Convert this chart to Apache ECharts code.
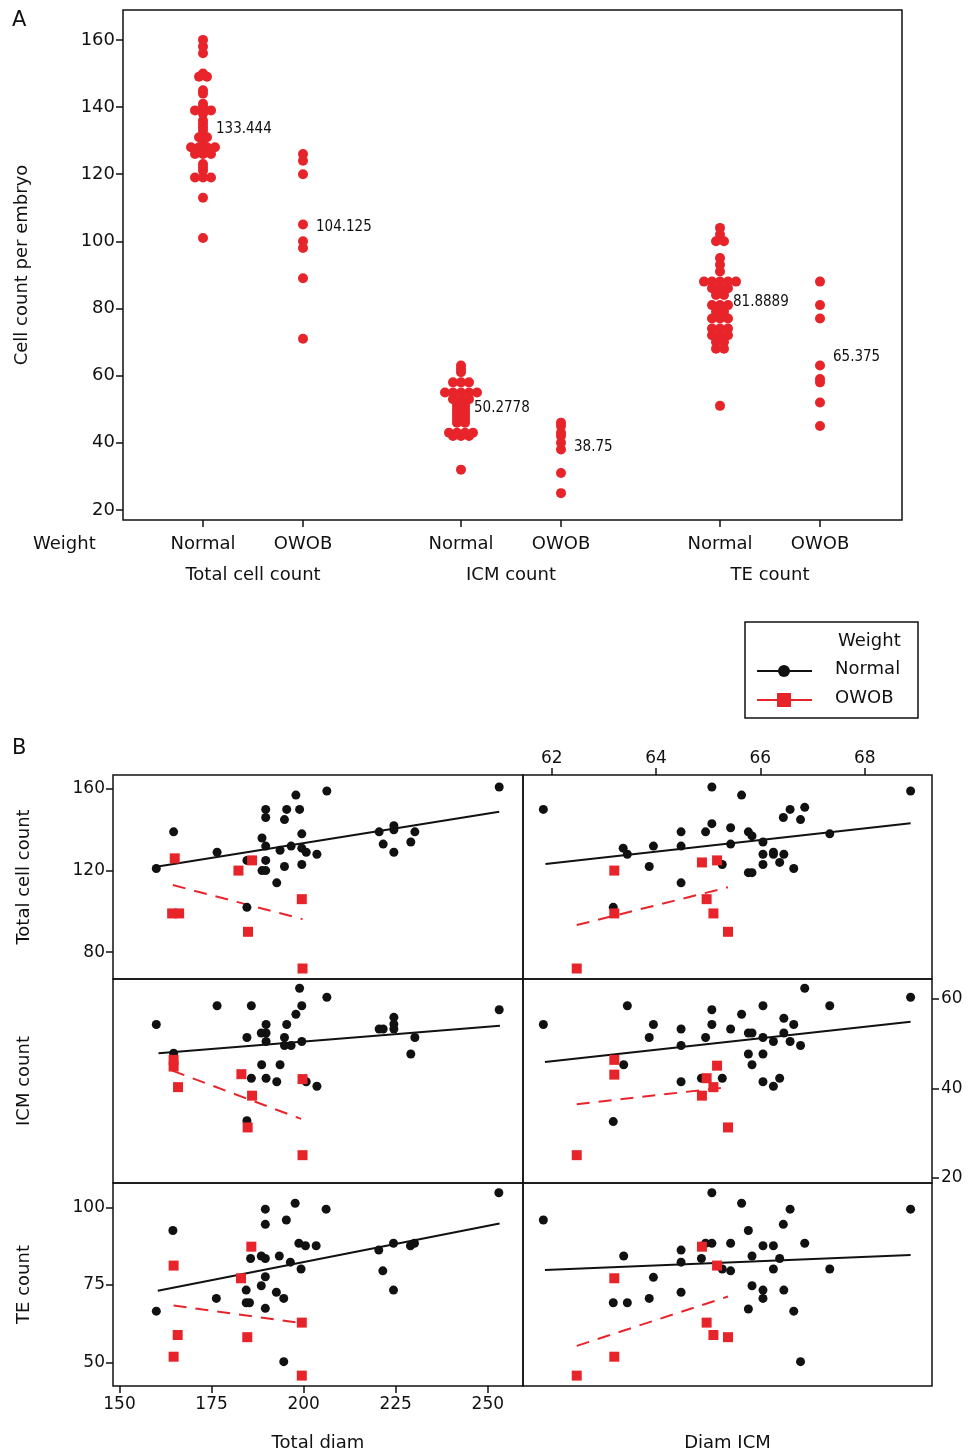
<!DOCTYPE html>
<html>
<head>
<meta charset="utf-8">
<script src="https://cdn.jsdelivr.net/npm/echarts@6/dist/echarts.min.js"></script>
<style>
html, body { margin: 0; padding: 0; background: #fff; }
#chart { width: 977px; height: 1455px; }
</style>
</head>
<body>
<div id="chart"></div>
<script>
// ---- panel A: individual values per group ----
var groupNames = ['Total cell count', 'ICM count', 'TE count'];
var weightNames = ['Normal', 'OWOB'];
var slotPos = [0.80, 1.80, 3.38, 4.38, 5.97, 6.97];
var groupMid = [1.30, 3.88, 6.47];

var totalNormal = [160,158,156,150,149,149,145,144,141,140,139,139,139,138,136,135,134,133,131,131,130,128,128,128,128,126,126,126,123,122,121,119,119,119,113,101];
var totalOwob = [126,124,120,105,100,98,89,71];
var icmNormal = [63,62,61,58,58,58,55,55,55,55,55,53,53,53,52,52,51,51,50,50,49,49,48,48,47,47,46,46,43,43,43,43,42,42,42,32];
var icmOwob = [46,45,43,42,40,38,31,25];
var teNormal = [104,102,100,100,95,93,91,88,88,88,88,88,86,86,86,84,84,81,81,81,79,79,77,77,77,74,74,74,72,72,72,70,70,68,68,51];
var teOwob = [88,81,77,63,59,58,52,45];

var meanValues = [133.444, 104.125, 50.2778, 38.75, 81.8889, 65.375];
var meanLabels = ['133.444', '104.125', '50.2778', '38.75', '81.8889', '65.375'];

// ---- panel B: [x, y] per embryo ----
// total cell count vs total diam
var totDiamNormal = [[160,121],[164.7,139],[176.5,129],[184.6,125],[184.6,102],[188.7,136],[189.7,132],[189.7,125],[188.7,120],[189.7,120],[189.7,150],[189.7,146],[192.7,114],[193.6,130],[194.8,145],[195.4,150],[194.8,122],[196.6,132],[197.9,157],[198.9,150],[199.5,138],[199.5,131],[200.7,129],[199.5,123],[203.6,128],[206.3,159],[220.5,139],[224.5,142],[224.5,140],[221.6,133],[224.5,129],[229.1,134],[230.2,139],[253.1,161]];
var totDiamOwob = [[165,126],[182.3,120],[186,125],[199.5,106],[164.3,99],[166.2,99],[184.9,90],[199.7,72]];
var totDiamFitN = [[160,121.9],[253.1,148.9]];
var totDiamFitO = [[164.5,112.9],[199.7,96.2]];

// total cell count vs diam ICM
var totIcmNormal = [[61.84,150],[65.07,161],[65.64,157],[68.88,159],[66.57,150],[66.44,146],[66.85,151],[66.77,145],[65.07,143],[64.95,139],[64.48,139],[65.43,141],[65.77,139],[65.84,137],[67.33,138],[66.05,134],[65.43,133],[64.48,132],[63.95,132],[63.37,131],[63.45,128],[66.05,128],[66.25,129],[66.45,128],[66.37,124],[66.05,123],[66.25,128],[63.87,122],[65.27,123],[65.77,119],[65.84,119],[66.64,121],[64.48,114],[63.18,102]];
var totIcmOwob = [[63.2,120],[64.88,124],[65.17,125],[64.97,106],[63.2,99],[65.1,99],[65.38,90],[62.48,72]];
var totIcmFitN = [[61.88,123.2],[68.88,143.2]];
var totIcmFitO = [[62.48,93.3],[65.38,111.8]];

// ICM count vs total diam
var icmDiamNormal = [[160,54.3],[176.5,58.5],[185.8,58.5],[198.9,62.4],[206.3,60.4],[199.5,58.5],[197.9,56.6],[189.8,54.3],[195.4,54.3],[188.5,52.4],[189.8,52.4],[184.6,51.4],[194.8,51.4],[189.8,50.5],[199.5,50.5],[194.8,49.6],[196.6,49.6],[220.5,53.3],[221.6,53.3],[224.5,55.9],[224.5,54.4],[224.5,53.3],[230.2,51.4],[229.1,47.7],[253.1,57.6],[188.6,45.3],[193.6,45.3],[185.8,42.3],[189.8,42.3],[192.7,41.5],[200.7,41.5],[203.6,40.5],[184.6,32.8],[164.7,47.9]];
var icmDiamOwob = [[164.7,46.4],[164.7,44.9],[165.9,40.3],[183.1,43.2],[186,38.4],[184.8,31.3],[199.7,42.1],[199.7,25.1]];
var icmDiamFitN = [[160.6,47.9],[253.3,54.0]];
var icmDiamFitO = [[164.3,44.0],[199.3,33.2]];

// ICM count vs diam ICM
var icmIcmNormal = [[61.84,54.3],[63.45,58.5],[63.87,51.4],[63.95,54.3],[64.48,53.3],[64.48,49.6],[64.95,51.4],[65.07,57.6],[65.07,54.3],[65.43,53.3],[65.64,56.6],[65.77,52.4],[65.84,52.4],[66.05,58.5],[66.05,51.4],[66.25,50.5],[66.45,55.7],[66.64,54.3],[66.45,52.4],[66.57,50.5],[66.77,49.6],[66.85,62.4],[67.33,58.5],[68.88,60.4],[63.38,45.3],[65.77,47.7],[66.05,47.7],[65.84,45.3],[64.48,41.5],[64.87,42.3],[65.27,42.3],[66.05,41.5],[66.25,40.5],[66.37,42.3],[63.18,32.6]];
var icmIcmOwob = [[63.2,46.4],[63.2,43.1],[65.17,45.1],[64.97,42.3],[65.1,40.3],[64.88,38.4],[65.38,31.3],[62.48,25.1]];
var icmIcmFitN = [[61.87,45.9],[68.88,54.9]];
var icmIcmFitO = [[62.48,36.5],[65.38,40.3]];

// TE count vs total diam
var teDiamNormal = [[160,66.5],[164.5,92.5],[176.3,70.6],[184.4,73.3],[184.4,69.2],[185.3,69.2],[185.6,83.5],[188.5,84.3],[189.6,83.5],[189.6,77.6],[188.5,74.7],[189.6,99.4],[189.6,94.5],[189.6,67.4],[192.6,72.6],[193.4,84.3],[194.6,70.6],[194.6,50.2],[195.3,95.9],[196.4,82.3],[197.7,101.3],[198.7,88.4],[200.5,87.6],[199.3,80.1],[203.4,87.6],[206.1,99.4],[220.4,86.2],[224.4,88.4],[221.5,79.5],[224.4,73.3],[229,87.6],[230.1,88.4],[253,104.7]];
var teDiamOwob = [[164.7,81.2],[185.8,87.3],[183,77.1],[199.5,62.8],[165.8,58.8],[184.7,58.1],[164.7,51.8],[199.5,45.7]];
var teDiamFitN = [[160.4,73.1],[253.2,94.8]];
var teDiamFitO = [[164.7,68.3],[199.5,62.6]];

// TE count vs diam ICM
var teIcmNormal = [[61.84,95.9],[65.07,104.7],[65.64,101.3],[66.57,99.4],[66.44,94.5],[68.88,99.4],[65.77,92.5],[64.95,88.4],[65.07,88.4],[65.43,88.4],[66.05,87.6],[66.25,87.6],[66.85,88.4],[63.38,84.3],[64.48,86.2],[64.48,82.3],[64.87,83.5],[65.84,84.3],[66.37,83.5],[65.27,80.1],[65.43,79.5],[66.25,80.1],[67.33,80.1],[63.95,77.4],[65.84,74.7],[66.05,73.3],[66.45,73.3],[64.48,72.6],[66.05,70.6],[63.18,69.2],[63.45,69.2],[63.87,70.6],[65.77,67.2],[66.64,66.5],[66.77,50.2]];
var teIcmOwob = [[64.88,87.3],[65.17,81.2],[63.2,77.1],[64.97,62.8],[65.1,58.8],[65.38,58.1],[63.2,51.8],[62.48,45.7]];
var teIcmFitN = [[61.87,79.8],[68.88,84.6]];
var teIcmFitO = [[62.48,55.3],[65.38,71.2]];

var diamTicks = [150, 175, 200, 225, 250];
var icmDiamTicks = [62, 64, 66, 68];
var totalTicksA = [20, 40, 60, 80, 100, 120, 140, 160];
var totalTicksB = [80, 120, 160];
var icmTicksB = [20, 40, 60];
var teTicksB = [50, 75, 100];

var RED = '#e8242b';
var BLACK = '#111';
var FONT = 'DejaVu Sans';

// spread tied values sideways like a dot plot
function spread(vals, x0, step) {
    var counts = {}, seen = {};
    vals.forEach(function (v) { counts[v] = (counts[v] || 0) + 1; });
    return vals.map(function (v) {
        var k = counts[v], i = seen[v] || 0;
        seen[v] = i + 1;
        return [x0 + (i - (k - 1) / 2) * step, v];
    });
}

var dotStep = 0.08;
var dotsA = [].concat(
    spread(totalNormal, slotPos[0], dotStep), spread(totalOwob, slotPos[1], dotStep),
    spread(icmNormal, slotPos[2], dotStep), spread(icmOwob, slotPos[3], dotStep),
    spread(teNormal, slotPos[4], dotStep), spread(teOwob, slotPos[5], dotStep)
);
var meanPts = meanValues.map(function (m, i) { return [slotPos[i], m, meanLabels[i]]; });

function axis(gridIndex, min, max, extra) {
    var a = {
        gridIndex: gridIndex, type: 'value', min: min, max: max,
        splitLine: { show: false }, axisLine: { show: false },
        axisTick: { show: false }, axisLabel: { show: false }
    };
    for (var k in extra) a[k] = extra[k];
    return a;
}
function ticks(values, size, margin) {
    return {
        axisTick: { show: true, customValues: values, length: 7, lineStyle: { color: BLACK, width: 1.5 } },
        axisLabel: { show: true, customValues: values, fontSize: size, color: BLACK, fontFamily: FONT, margin: margin }
    };
}
function named(obj, name, gap, rotate) {
    obj.name = name;
    obj.nameLocation = 'middle';
    obj.nameGap = gap;
    if (rotate) obj.nameRotate = 90;
    obj.nameTextStyle = { fontSize: 18, color: BLACK, fontFamily: FONT };
    return obj;
}

var frame = { show: true, borderColor: BLACK, borderWidth: 1.5, containLabel: false, outerBoundsMode: 'none' };
var grids = [
    { left: 123, top: 10, width: 779, height: 510 },
    { left: 113, top: 775, width: 410, height: 204 },
    { left: 523, top: 775, width: 409, height: 204 },
    { left: 113, top: 979, width: 410, height: 204 },
    { left: 523, top: 979, width: 409, height: 204 },
    { left: 113, top: 1183, width: 410, height: 203 },
    { left: 523, top: 1183, width: 409, height: 203 }
].map(function (g) { for (var k in frame) g[k] = frame[k]; return g; });

var xRange1 = [148.24, 259.56], xRange2 = [61.45, 69.29];
var yRow1 = [66.86, 166.86], yRow2 = [18.88, 64.47], yRow3 = [42.35, 107.84];

var xA = axis(0, 0, 7.79, Object.assign({ position: 'bottom' }, ticks(slotPos, 18, 15)));
xA.axisLabel.formatter = function (v) { return weightNames[slotPos.indexOf(v) % 2]; };
var xA2 = axis(0, 0, 7.79, {
    position: 'bottom',
    axisLabel: { show: true, customValues: groupMid, fontSize: 18, color: BLACK, fontFamily: FONT, margin: 46,
        formatter: function (v) { return groupNames[groupMid.indexOf(v)]; } }
});

var xAxes = [
    xA, xA2,
    axis(1, xRange1[0], xRange1[1], { position: 'bottom' }),
    axis(2, xRange2[0], xRange2[1], Object.assign({ position: 'top' }, ticks(icmDiamTicks, 17, 8))),
    axis(3, xRange1[0], xRange1[1], { position: 'bottom' }),
    axis(4, xRange2[0], xRange2[1], { position: 'bottom' }),
    named(axis(5, xRange1[0], xRange1[1], Object.assign({ position: 'bottom' }, ticks(diamTicks, 17, 10))), 'Total diam', 48),
    named(axis(6, xRange2[0], xRange2[1], { position: 'bottom' }), 'Diam ICM', 48)
];
var yAxes = [
    named(axis(0, 17.0, 168.9, ticks(totalTicksA, 18, 8)), 'Cell count per embryo', 92, true),
    named(axis(1, yRow1[0], yRow1[1], ticks(totalTicksB, 17, 8)), 'Total cell count', 80, true),
    axis(2, yRow1[0], yRow1[1]),
    named(axis(3, yRow2[0], yRow2[1]), 'ICM count', 80, true),
    axis(4, yRow2[0], yRow2[1], Object.assign({ position: 'right' }, ticks(icmTicksB, 17, 9))),
    named(axis(5, yRow3[0], yRow3[1], ticks(teTicksB, 17, 8)), 'TE count', 80, true),
    axis(6, yRow3[0], yRow3[1])
];

var series = [
    { type: 'scatter', name: 'Panel A', xAxisIndex: 0, yAxisIndex: 0, data: dotsA,
      symbol: 'circle', symbolSize: 10, itemStyle: { color: RED, opacity: 1 }, z: 3 },
    { type: 'scatter', name: 'Means', xAxisIndex: 0, yAxisIndex: 0, data: meanPts,
      symbolSize: 0, z: 4, silent: true, itemStyle: { opacity: 1 },
      label: { show: true, position: 'right', distance: 13, color: BLACK, fontSize: 15,
               fontFamily: 'DejaVu Sans Condensed, DejaVu Sans',
               formatter: function (p) { return p.value[2]; } } }
];

var panels = [
    [totDiamNormal, totDiamOwob, totDiamFitN, totDiamFitO],
    [totIcmNormal, totIcmOwob, totIcmFitN, totIcmFitO],
    [icmDiamNormal, icmDiamOwob, icmDiamFitN, icmDiamFitO],
    [icmIcmNormal, icmIcmOwob, icmIcmFitN, icmIcmFitO],
    [teDiamNormal, teDiamOwob, teDiamFitN, teDiamFitO],
    [teIcmNormal, teIcmOwob, teIcmFitN, teIcmFitO]
];
panels.forEach(function (p, i) {
    var xi = i + 2, yi = i + 1;
    series.push(
        { type: 'line', name: 'Normal', xAxisIndex: xi, yAxisIndex: yi, data: p[2], symbol: 'none',
          lineStyle: { color: BLACK, width: 2 }, z: 2 },
        { type: 'line', name: 'OWOB', xAxisIndex: xi, yAxisIndex: yi, data: p[3], symbol: 'none',
          lineStyle: { color: RED, width: 2, type: [13, 9] }, z: 2 },
        { type: 'scatter', name: 'Normal', xAxisIndex: xi, yAxisIndex: yi, data: p[0],
          symbol: 'circle', symbolSize: 9, itemStyle: { color: BLACK, opacity: 1 }, z: 3 },
        { type: 'scatter', name: 'OWOB', xAxisIndex: xi, yAxisIndex: yi, data: p[1],
          symbol: 'rect', symbolSize: 10, itemStyle: { color: RED, opacity: 1 }, z: 4 }
    );
});

var chart = echarts.init(document.getElementById('chart'));
chart.setOption({
    animation: false,
    backgroundColor: '#fff',
    grid: grids,
    xAxis: xAxes,
    yAxis: yAxes,
    series: series,
    graphic: [
        { type: 'text', x: 12, y: 10, style: { text: 'A', fontSize: 21, fill: BLACK, fontFamily: FONT } },
        { type: 'text', x: 12, y: 738, style: { text: 'B', fontSize: 21, fill: BLACK, fontFamily: FONT } },
        { type: 'text', x: 33, y: 535, style: { text: 'Weight', fontSize: 18, fill: BLACK, fontFamily: FONT } },
        // legend box
        { type: 'rect', shape: { x: 745, y: 622, width: 173, height: 96 },
          style: { fill: 'none', stroke: BLACK, lineWidth: 1.5 } },
        { type: 'text', x: 838, y: 632, style: { text: 'Weight', fontSize: 18, fill: BLACK, fontFamily: FONT } },
        { type: 'line', shape: { x1: 757, y1: 671, x2: 812, y2: 671 }, style: { stroke: BLACK, lineWidth: 2 } },
        { type: 'circle', shape: { cx: 784, cy: 671, r: 6 }, style: { fill: BLACK } },
        { type: 'text', x: 835, y: 660, style: { text: 'Normal', fontSize: 18, fill: BLACK, fontFamily: FONT } },
        { type: 'line', shape: { x1: 757, y1: 700, x2: 812, y2: 700 }, style: { stroke: RED, lineWidth: 2 } },
        { type: 'rect', shape: { x: 777, y: 693, width: 14, height: 14 }, style: { fill: RED } },
        { type: 'text', x: 835, y: 689, style: { text: 'OWOB', fontSize: 18, fill: BLACK, fontFamily: FONT } }
    ]
});
</script>
</body>
</html>
